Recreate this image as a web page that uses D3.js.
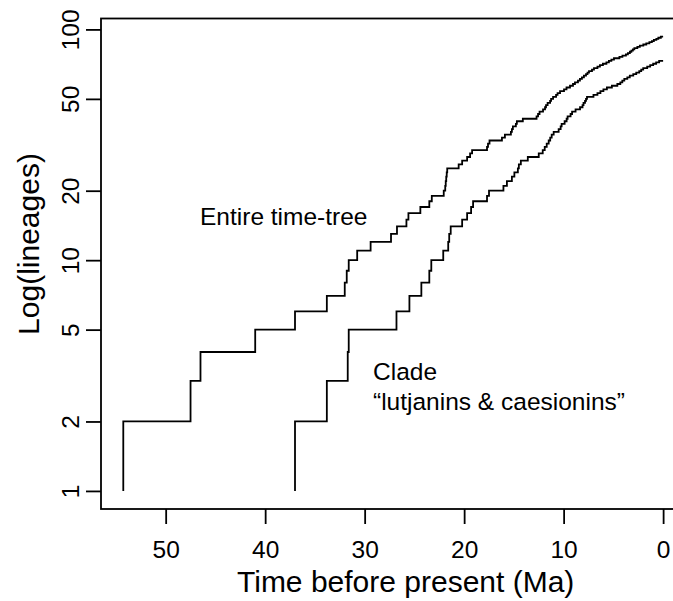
<!DOCTYPE html>
<html>
<head>
<meta charset="utf-8">
<script src="https://cdn.jsdelivr.net/npm/d3@7"></script>
<style>
  html, body { margin: 0; padding: 0; background: #fff; }
  svg text { font-family: "Liberation Sans", Arial, Helvetica, sans-serif; fill: #000; }
</style>
</head>
<body>
<div id="chart"></div>
<script>
// branching times (Ma), one per new lineage: N = 2, 3, 4, ...
const entireTimes = [54.26, 47.5, 46.5, 41.0, 37.0, 33.8, 32.0, 31.8, 31.6, 30.75,
    29.4, 27.35, 26.75, 25.8, 25.6, 24.4, 23.5, 23.25, 22.05, 21.9,
    21.85, 21.8, 21.75, 21.7, 20.55, 20.2, 19.7, 19.4, 19.2, 17.7,
    17.6, 17.45, 16.2, 15.9, 15.3, 15.2, 15.1, 14.8, 14.7, 14.1,
    12.72, 12.57, 12.42, 12.07, 11.87, 11.77, 11.61, 11.36, 11.26, 11.06,
    10.76, 10.61, 10.36, 9.96, 9.71, 9.36, 9.06, 8.86, 8.56, 8.36,
    8.16, 7.96, 7.75, 7.6, 7.45, 7.15, 6.95, 6.6, 6.35, 6.05,
    5.7, 5.45, 5.2, 4.94, 4.39, 4.09, 3.74, 3.54, 3.34, 3.19,
    3.04, 2.89, 2.59, 2.34, 1.99, 1.69, 1.38, 1.13, 0.93, 0.68,
    0.48, 0.23];

const cladeTimes = [37.0, 33.8, 31.7, 31.6, 26.8, 25.5, 24.3, 23.5, 23.3, 22.1,
    21.6, 21.5, 21.35, 20.2, 19.7, 19.3, 19.1, 17.7, 17.5, 16.05,
    15.7, 15.2, 14.95, 14.6, 14.5, 14.3, 13.6, 12.5, 12.1, 11.9,
    11.7, 11.5, 11.35, 11.2, 11.0, 10.5, 10.3, 10.2, 9.9, 9.7,
    9.6, 9.3, 9.15, 8.8, 8.35, 8.1, 8.0, 7.85, 7.75, 7.65,
    7.0, 6.6, 6.3, 6.0, 5.65, 5.15, 4.6, 4.3, 4.1, 3.9,
    3.6, 3.35, 3.0, 2.7, 2.4, 2.2, 2.0, 1.6, 1.3, 1.0,
    0.7, 0.4];

const xTicks = [50, 40, 30, 20, 10, 0];
const yTicks = [1, 2, 5, 10, 20, 50, 100];

const w = 673, h = 601;
const padL = 101, padR = 685, padT = 18.5, padB = 509;

const svg = d3.select("#chart").append("svg")
    .attr("width", w)
    .attr("height", h);

const xScale = d3.scaleLinear().domain([56.5, -2.2]).range([padL, padR]);
const yScale = d3.scaleLog().domain([0.835, 111.5]).range([padB, padT]);

// turn branching times into step points
const ltt = times => {
    const pts = [[times[0], 1]];
    times.forEach((t, i) => pts.push([t, i + 2]));
    pts.push([0, times.length + 1]);
    return pts;
};

const line = d3.line()
    .x(d => xScale(d[0]))
    .y(d => yScale(d[1]))
    .curve(d3.curveStepAfter);

[entireTimes, cladeTimes].forEach(times => {
    svg.append("path")
        .attr("d", line(ltt(times)))
        .attr("fill", "none")
        .attr("stroke", "#000")
        .attr("stroke-width", 1.8);
});

// box
svg.append("rect")
    .attr("x", padL)
    .attr("y", padT)
    .attr("width", padR - padL)
    .attr("height", padB - padT)
    .attr("fill", "none")
    .attr("stroke", "#000")
    .attr("stroke-width", 1.8);

const xAxis = d3.axisBottom(xScale).tickValues(xTicks).tickSize(15).tickFormat(d3.format("d"));
const yAxis = d3.axisLeft(yScale).tickValues(yTicks).tickSize(15).tickFormat(d3.format("d"));

const gx = svg.append("g")
    .attr("transform", `translate(0,${padB})`)
    .call(xAxis);
gx.select(".domain").remove();
gx.selectAll("line").attr("stroke", "#000").attr("stroke-width", 1.8);
gx.selectAll("text")
    .attr("y", 49)
    .attr("dy", null)
    .style("font-size", "24.5px");

const gy = svg.append("g")
    .attr("transform", `translate(${padL},0)`)
    .call(yAxis);
gy.select(".domain").remove();
gy.selectAll("line").attr("stroke", "#000").attr("stroke-width", 1.8);
gy.selectAll("text")
    .attr("x", null)
    .attr("dy", null)
    .attr("text-anchor", "middle")
    .attr("transform", "translate(-22,0) rotate(-90)")
    .style("font-size", "24.5px");

// axis titles
svg.append("text")
    .attr("x", 237)
    .attr("y", 592)
    .style("font-size", "30px")
    .text("Time before present (Ma)");

svg.append("text")
    .attr("transform", "translate(39,244) rotate(-90)")
    .attr("text-anchor", "middle")
    .style("font-size", "30px")
    .text("Log(lineages)");

// annotations
svg.append("text")
    .attr("x", 200)
    .attr("y", 225)
    .style("font-size", "24.5px")
    .text("Entire time-tree");

svg.append("text")
    .attr("x", 373)
    .attr("y", 380)
    .style("font-size", "24.5px")
    .text("Clade");

svg.append("text")
    .attr("x", 373)
    .attr("y", 410)
    .style("font-size", "24.5px")
    .text("\u201clutjanins & caesionins\u201d");
</script>
</body>
</html>
